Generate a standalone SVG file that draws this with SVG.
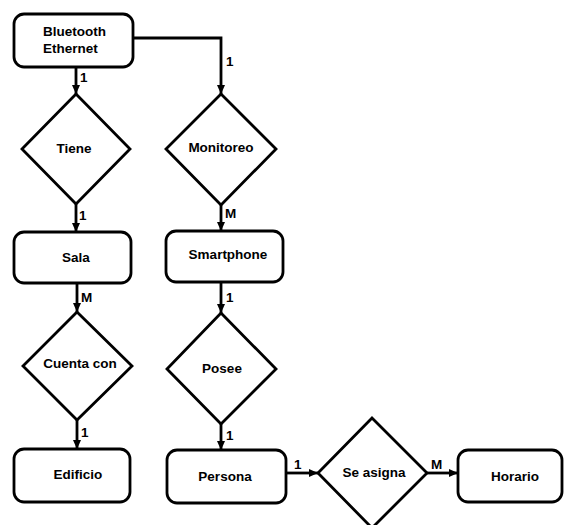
<svg xmlns="http://www.w3.org/2000/svg" width="566" height="525" viewBox="0 0 566 525">
  <style>
    .entity { fill: #ffffff; stroke: #000000; stroke-width: 2.8; }
    .rel { fill: #ffffff; stroke: #000000; stroke-width: 2.8; stroke-linejoin: miter; }
    .edge { fill: none; stroke: #000000; stroke-width: 2.8; }
    text { font-family: "Liberation Sans", Arial, sans-serif; font-weight: bold; font-size: 13.5px; fill: #000000; }
    .c { text-anchor: middle; }
  </style>
  <defs>
    <marker id="arrow" markerUnits="userSpaceOnUse" markerWidth="10" markerHeight="10" refX="9" refY="5" orient="auto">
      <path d="M0,1 L9,5 L0,9 Z" fill="#000000"/>
    </marker>
  </defs>
  <rect width="566" height="525" fill="#ffffff"/>

  <g id="connectors">
    <path class="edge" d="M76,67 L76,94" marker-end="url(#arrow)"/>
    <path class="edge" d="M133,38 L221,38 L221,94" marker-end="url(#arrow)"/>
    <path class="edge" d="M76,204 L76,232" marker-end="url(#arrow)"/>
    <path class="edge" d="M221,205 L221,231" marker-end="url(#arrow)"/>
    <path class="edge" d="M77,283 L77,312" marker-end="url(#arrow)"/>
    <path class="edge" d="M77,420 L77,449" marker-end="url(#arrow)"/>
    <path class="edge" d="M221,282 L221,313" marker-end="url(#arrow)"/>
    <path class="edge" d="M221,424 L221,450" marker-end="url(#arrow)"/>
    <path class="edge" d="M286,473 L318,473" marker-end="url(#arrow)"/>
    <path class="edge" d="M427,473 L458,473" marker-end="url(#arrow)"/>
    <text x="80" y="82">1</text>
    <text x="226" y="66">1</text>
    <text x="79" y="220">1</text>
    <text x="225" y="218">M</text>
    <text x="81" y="302">M</text>
    <text x="226" y="302">1</text>
    <text x="81" y="437">1</text>
    <text x="226" y="440">1</text>
    <text x="294" y="469">1</text>
    <text x="431" y="469">M</text>
  </g>

  <g id="bluetooth">
    <rect class="entity" x="14" y="14" width="119" height="53" rx="10"/>
    <text x="43" y="36">Bluetooth</text>
    <text x="43" y="53">Ethernet</text>
  </g>
  <g id="tiene">
    <polygon class="rel" points="76,94 130,149 76,204 22,149"/>
    <text class="c" x="74" y="153">Tiene</text>
  </g>
  <g id="monitoreo">
    <polygon class="rel" points="221,94 276,149 221,205 166,149"/>
    <text class="c" x="221" y="152">Monitoreo</text>
  </g>
  <g id="sala">
    <rect class="entity" x="14" y="232" width="117" height="51" rx="10"/>
    <text class="c" x="76" y="262">Sala</text>
  </g>
  <g id="smartphone">
    <rect class="entity" x="166" y="231" width="117" height="51" rx="10"/>
    <text class="c" x="228" y="259">Smartphone</text>
  </g>
  <g id="cuenta-con">
    <polygon class="rel" points="77,312 132,366 77,420 23,366"/>
    <text class="c" x="80" y="368">Cuenta con</text>
  </g>
  <g id="posee">
    <polygon class="rel" points="221,313 276,369 221,424 167,369"/>
    <text class="c" x="222" y="373">Posee</text>
  </g>
  <g id="edificio">
    <rect class="entity" x="14" y="449" width="116" height="53" rx="10"/>
    <text class="c" x="78" y="479">Edificio</text>
  </g>
  <g id="persona">
    <rect class="entity" x="167" y="450" width="119" height="53" rx="10"/>
    <text class="c" x="225" y="481">Persona</text>
  </g>
  <g id="se-asigna">
    <polygon class="rel" points="372,418 427,473 372,528 318,473"/>
    <text class="c" x="374" y="477">Se asigna</text>
  </g>
  <g id="horario">
    <rect class="entity" x="458" y="450" width="104" height="52" rx="10"/>
    <text class="c" x="515" y="481">Horario</text>
  </g>
</svg>
